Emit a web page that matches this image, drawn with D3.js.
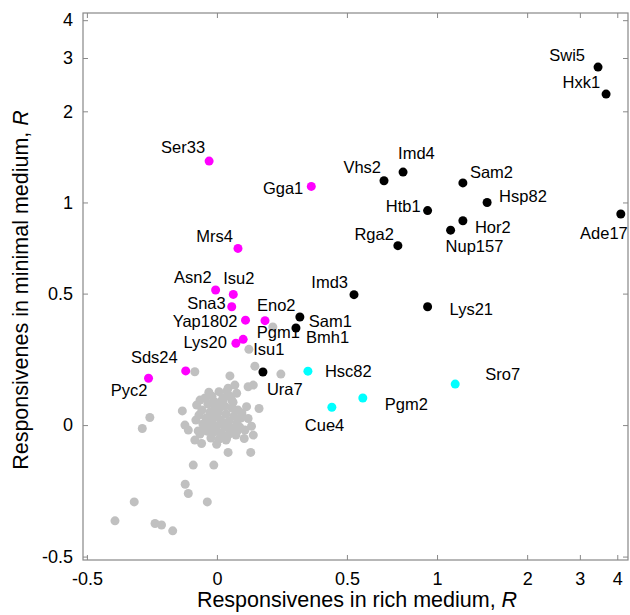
<!DOCTYPE html>
<html>
<head>
<meta charset="utf-8">
<script src="https://cdn.jsdelivr.net/npm/d3@7"></script>
<style>
  html, body { margin: 0; padding: 0; background: #fff; }
  svg { display: block; font-family: "Liberation Sans", Arial, sans-serif; }
</style>
</head>
<body>
<svg id="chart" width="630" height="615"></svg>
<script>
// ---------------- data ----------------
const tickValues = [-0.5, 0, 0.5, 1, 2, 3, 4];
const tickLabels = ["-0.5", "0", "0.5", "1", "2", "3", "4"];

const labeledNames   = ["Swi5","Hxk1","Ade17","Hsp82","Sam2","Imd4","Vhs2","Htb1","Hor2","Nup157","Rga2","Imd3","Lys21","Sam1","Bmh1","Ura7",
                        "Ser33","Gga1","Mrs4","Asn2","Isu2","Sna3","Yap1802","Eno2","Lys20","Isu1","Sds24","Pyc2",
                        "Hsc82","Cue4","Pgm2","Sro7","Pgm1"];
const labeledRich    = [3.45, 3.67, 4.11, 1.47, 1.22, 0.77, 0.665, 0.93, 1.22, 1.11, 0.74, 0.528, 0.93, 0.319, 0.304, 0.177,
                        -0.030, 0.363, 0.081, -0.005, 0.063, 0.057, 0.110, 0.185, 0.073, 0.101, -0.120, -0.263,
                        0.350, 0.442, 0.565, 1.15, 0.215];
const labeledMinimal = [2.80, 2.28, 0.916, 1.00, 1.16, 1.26, 1.18, 0.94, 0.87, 0.81, 0.72, 0.496, 0.450, 0.411, 0.369, 0.202,
                        1.37, 1.13, 0.705, 0.514, 0.497, 0.450, 0.399, 0.397, 0.311, 0.326, 0.206, 0.178,
                        0.205, 0.068, 0.103, 0.156, 0.373];
const labeledGroup   = ["black","black","black","black","black","black","black","black","black","black","black","black","black","black","black","black",
                        "magenta","magenta","magenta","magenta","magenta","magenta","magenta","magenta","magenta","magenta","magenta","magenta",
                        "cyan","cyan","cyan","cyan","gray"];

const grayRich = [-0.085, 0.123, 0.146, 0.246, 0.050, 0.069, 0.043, 0.120, 0.140, 0.008, 0.076, -0.065, 0.024, 0.057, 0.114, 0.162,
  -0.133, -0.078, -0.258, -0.287, -0.123, -0.110, -0.072, 0.120, 0.133, 0.108, 0.140, 0.105, 0.037, -0.085, -0.059, -0.001,
  0.043, 0.130, -0.091, -0.012, -0.122, -0.110, -0.037, -0.318, -0.392, -0.238, -0.213, -0.170,
  -0.046, -0.019, 0.012, -0.035, -0.008, 0.031, 0.058, 0.081, -0.058, -0.027, 0.004, 0.035, 0.065, 0.092, -0.069, -0.042,
  -0.015, 0.015, 0.046, 0.077, -0.054, -0.027, 0.000, 0.031, 0.058, 0.088, -0.038, -0.012, 0.015, 0.046, 0.073, -0.023,
  0.008, 0.096, -0.081, -0.050, 0.023, -0.012, 0.050, -0.031, 0.038, 0.008, -0.019, -0.065, 0.081, 0.035, -0.004, 0.019,
  -0.038, 0.062];
const grayMinimal = [0.203, 0.288, 0.224, 0.194, 0.187, 0.152, 0.140, 0.146, 0.152, 0.127, 0.121, 0.095, 0.095, 0.095, 0.070, 0.063,
  0.054, 0.076, 0.029, -0.013, 0.000, -0.019, -0.022, 0.025, -0.004, -0.019, -0.038, -0.051, -0.051, -0.057, -0.070, -0.073,
  -0.104, -0.104, -0.152, -0.152, -0.225, -0.260, -0.292, -0.292, -0.364, -0.374, -0.380, -0.402,
  0.103, 0.110, 0.087, 0.080, 0.068, 0.072, 0.065, 0.057, 0.057, 0.049, 0.046, 0.042, 0.034, 0.027, 0.038, 0.027,
  0.023, 0.019, 0.015, 0.008, 0.004, 0.000, -0.004, -0.008, -0.011, -0.008, -0.023, -0.027, -0.030, -0.034, -0.038, -0.049,
  -0.053, 0.046, 0.019, -0.011, 0.103, 0.091, 0.110, 0.125, 0.129, 0.061, -0.011, -0.034, -0.019, -0.057, 0.038, 0.004,
  0.015, 0.087];

// ---------------- presentation ----------------
const groupColor = { black: "#000000", magenta: "#ff00ff", cyan: "#00ffff", gray: "#c0c0c0" };
// label placement: [dx, dy (to text centre), anchor]
const labelPlacement = {
  Swi5: [-13, -12, "end"], Hxk1: [-6, -12, "end"], Ade17: [7, 19, "end"], Hsp82: [12, -6, "start"],
  Sam2: [7, -11, "start"], Imd4: [-5, -19, "start"], Vhs2: [-3, -14, "end"], Htb1: [-7, -5, "end"],
  Hor2: [12, 6, "start"], Nup157: [-5, 16, "start"], Rga2: [-4, -12, "end"], Imd3: [-6, -13, "end"],
  Lys21: [22, 2, "start"], Sam1: [9, 4, "start"], Bmh1: [10, 9, "start"], Ura7: [4, 17, "start"],
  Ser33: [-4, -14, "end"], Gga1: [-8, 2, "end"], Mrs4: [-5, -12, "end"], Asn2: [-4, -13, "end"],
  Isu2: [-10, -16, "start"], Sna3: [-6, -4, "end"], Yap1802: [-8, 1, "end"], Eno2: [-8, -16, "start"],
  Lys20: [-9, -1, "end"], Isu1: [10, 10, "start"], Sds24: [-8, -14, "end"], Pyc2: [-1, 12, "end"],
  Hsc82: [17, 0, "start"], Cue4: [-27, 18, "start"], Pgm2: [22, 6, "start"], Sro7: [30, -10, "start"],
  Pgm1: [-16, 5, "start"]
};

// ---------------- scales ----------------
// linear up to 0.5, logarithmic above (continuous slope)
const warp = v => v <= 0.5 ? v : 0.5 + 0.5 * Math.log(2 * v);
const xLin = d3.scaleLinear().domain([-0.515, 1.581]).range([83, 628]);
const yLin = d3.scaleLinear().domain([-0.513, 1.567]).range([560, 13]);
function makeScale(lin) {
  const s = v => lin(warp(v));
  s.domain = () => [-0.5, 4];
  s.range = () => lin.range();
  s.copy = () => makeScale(lin);
  return s;
}
const x = makeScale(xLin);
const y = makeScale(yLin);

const svg = d3.select("#chart");
const axisColor = "#888888";
const fmt = v => tickLabels[tickValues.indexOf(v)];

// frame
svg.append("rect")
  .attr("x", 83).attr("y", 13).attr("width", 628 - 83).attr("height", 560 - 13)
  .attr("fill", "none").attr("stroke", axisColor).attr("stroke-width", 1.2);

function styleAxis(g, showText) {
  g.select(".domain").remove();
  g.selectAll(".tick line").attr("stroke", axisColor);
  g.selectAll(".tick text")
    .attr("fill", "#000")
    .style("font-size", "18px")
    .style("font-family", '"Liberation Sans", Arial, sans-serif')
    .style("display", showText ? null : "none");
}
svg.append("g").attr("transform", "translate(0,560)")
  .call(d3.axisBottom(x).tickValues(tickValues).tickFormat(fmt).tickSizeInner(-5).tickSizeOuter(0).tickPadding(12))
  .call(g => styleAxis(g, true));
svg.append("g").attr("transform", "translate(0,13)")
  .call(d3.axisTop(x).tickValues(tickValues).tickSizeInner(-5).tickSizeOuter(0))
  .call(g => styleAxis(g, false));
svg.append("g").attr("transform", "translate(83,0)")
  .call(d3.axisLeft(y).tickValues(tickValues).tickFormat(fmt).tickSizeInner(-5).tickSizeOuter(0).tickPadding(10))
  .call(g => styleAxis(g, true));
svg.append("g").attr("transform", "translate(628,0)")
  .call(d3.axisRight(y).tickValues(tickValues).tickSizeInner(-5).tickSizeOuter(0))
  .call(g => styleAxis(g, false));

// gray points
const grayData = grayRich.map((r, i) => ({ r, m: grayMinimal[i] }));
svg.append("g").selectAll("circle").data(grayData).join("circle")
  .attr("cx", d => x(d.r)).attr("cy", d => y(d.m)).attr("r", 4.5)
  .attr("fill", groupColor.gray);

// labeled points
const labeled = labeledNames.map((n, i) => ({ n, r: labeledRich[i], m: labeledMinimal[i], g: labeledGroup[i] }));
svg.append("g").selectAll("circle").data(labeled).join("circle")
  .attr("cx", d => x(d.r)).attr("cy", d => y(d.m)).attr("r", 4.5)
  .attr("fill", d => groupColor[d.g]);

svg.append("g").selectAll("text").data(labeled).join("text")
  .attr("x", d => x(d.r) + labelPlacement[d.n][0])
  .attr("y", d => y(d.m) + labelPlacement[d.n][1] + 6)
  .attr("text-anchor", d => labelPlacement[d.n][2])
  .style("font-size", "16.5px")
  .attr("fill", "#000")
  .text(d => d.n);

// axis titles
const xt = svg.append("text").attr("x", 357).attr("y", 607).attr("text-anchor", "middle")
  .style("font-size", "21.5px");
xt.append("tspan").text("Responsivenes in rich medium, ");
xt.append("tspan").style("font-style", "italic").text("R");

const yt = svg.append("text").attr("transform", "translate(28,290) rotate(-90)").attr("text-anchor", "middle")
  .style("font-size", "21.5px");
yt.append("tspan").text("Responsivenes in minimal medium, ");
yt.append("tspan").style("font-style", "italic").text("R");
</script>
</body>
</html>
